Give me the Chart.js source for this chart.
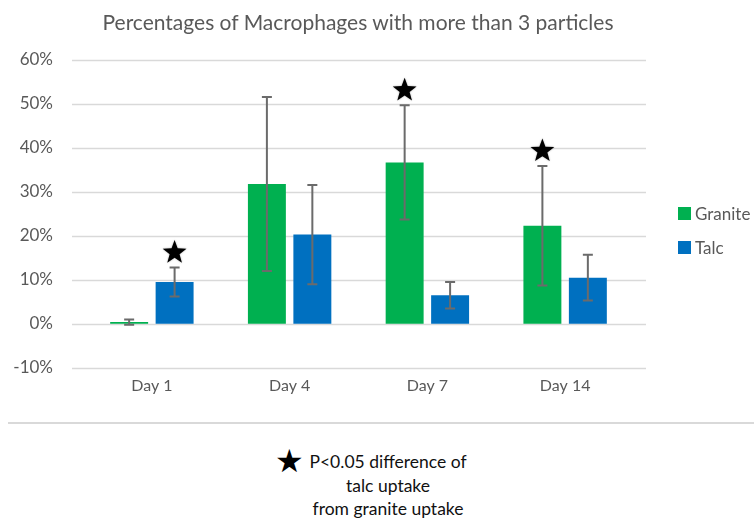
<!DOCTYPE html>
<html>
<head>
<meta charset="utf-8">
<script src="https://cdn.jsdelivr.net/npm/chart.js@4.4.1/dist/chart.umd.min.js"></script>
<style>
  html, body { margin: 0; padding: 0; background: #fff; }
  #wrap { position: relative; width: 754px; height: 518px; overflow: hidden; font-family: Lato, 'Open Sans', sans-serif; }
  #chartBox { position: absolute; left: 0; top: 0; width: 754px; height: 415px; }
  #title { position: absolute; left: 0; width: 716px; top: 9px; text-align: center; font-size: 21px; line-height: 26px; color: #595959; white-space: nowrap; }
  .legend-item { position: absolute; left: 678px; height: 20px; display: flex; align-items: center; font-size: 17px; color: #595959; }
  .legend-item span.sw { display: inline-block; width: 13px; height: 13px; margin-right: 4px; }
  #sep { position: absolute; left: 8px; right: 0; top: 422px; height: 2px; background: #d9d9d9; }
  #note { position: absolute; left: 283px; top: 450px; width: 210px; text-align: center; font-size: 17.5px; line-height: 23.5px; color: #111; }
  #noteStar { position: absolute; left: 275px; top: 444px; font-size: 32px; line-height: 32px; color: #000; }
</style>
</head>
<body>
<div id="wrap">
  <div id="chartBox"><canvas id="chart"></canvas></div>
  <div id="title">Percentages of Macrophages with more than 3 particles</div>
  <div class="legend-item" style="top:203px"><span class="sw" style="background:#00B050"></span>Granite</div>
  <div class="legend-item" style="top:237px"><span class="sw" style="background:#0070C0"></span>Talc</div>
  <div id="sep"></div>
  <div id="noteStar">★</div>
  <div id="note">P&lt;0.05 difference of<br>talc uptake<br>from granite uptake</div>
</div>
<script>
const days = ['Day 1', 'Day 4', 'Day 7', 'Day 14'];
const granite = [0.4, 31.8, 36.7, 22.3];
const graniteErr = [0.6, 19.8, 13.0, 13.6];
const talc = [9.5, 20.3, 6.5, 10.5];
const talcErr = [3.3, 11.3, 3.0, 5.2];
const graniteStar = [false, false, true, true];
const talcStar = [true, false, false, false];

const GREEN = '#00B050';
const BLUE = '#0070C0';
const GREY = '#595959';

// error bars + significance stars, drawn from the scales
const errorBarPlugin = {
  id: 'errorBars',
  afterDatasetsDraw(chart) {
    const { ctx } = chart;
    const y = chart.scales.y;
    chart.data.datasets.forEach((ds, di) => {
      const meta = chart.getDatasetMeta(di);
      meta.data.forEach((bar, i) => {
        const v = ds.data[i];
        const e = ds.errors[i];
        const yTop = y.getPixelForValue(v + e);
        const yBot = y.getPixelForValue(v - e);
        ctx.save();
        ctx.strokeStyle = '#6b6b6b';
        ctx.lineWidth = 2;
        ctx.beginPath();
        ctx.moveTo(bar.x, yTop);
        ctx.lineTo(bar.x, yBot);
        ctx.moveTo(bar.x - 5, yTop);
        ctx.lineTo(bar.x + 5, yTop);
        ctx.moveTo(bar.x - 5, yBot);
        ctx.lineTo(bar.x + 5, yBot);
        ctx.stroke();
        if (ds.stars[i]) drawStar(ctx, bar.x, yTop - 15, 12.5, 5.2);
        ctx.restore();
      });
    });
  },
};

function drawStar(ctx, cx, cy, outer, inner) {
  ctx.save();
  ctx.fillStyle = '#000';
  ctx.shadowColor = 'rgba(0,0,0,0.35)';
  ctx.shadowBlur = 2;
  ctx.beginPath();
  for (let k = 0; k < 10; k++) {
    const r = k % 2 === 0 ? outer : inner;
    const a = -Math.PI / 2 + (k * Math.PI) / 5;
    const px = cx + r * Math.cos(a);
    const py = cy + r * Math.sin(a);
    if (k === 0) ctx.moveTo(px, py);
    else ctx.lineTo(px, py);
  }
  ctx.closePath();
  ctx.fill();
  ctx.restore();
}

// horizontal gridlines, a bit wider than the plot area like the original
const gridPlugin = {
  id: 'wideGrid',
  beforeDatasetsDraw(chart) {
    const { ctx, chartArea } = chart;
    const y = chart.scales.y;
    ctx.save();
    ctx.strokeStyle = '#d9d9d9';
    ctx.lineWidth = 1.5;
    y.ticks.forEach((t) => {
      const py = Math.round(y.getPixelForValue(t.value)) + 0.5;
      ctx.beginPath();
      ctx.moveTo(chartArea.left - 11, py);
      ctx.lineTo(chartArea.right + 12, py);
      ctx.stroke();
    });
    ctx.restore();
  },
};

new Chart(document.getElementById('chart'), {
  type: 'bar',
  data: {
    labels: days,
    datasets: [
      { label: 'Granite', data: granite, errors: graniteErr, stars: graniteStar, backgroundColor: GREEN },
      { label: 'Talc', data: talc, errors: talcErr, stars: talcStar, backgroundColor: BLUE },
    ],
  },
  options: {
    responsive: true,
    maintainAspectRatio: false,
    animation: false,
    categoryPercentage: 0.66,
    barPercentage: 0.835,
    layout: { padding: { left: 0, right: 120, top: 60, bottom: 12 } },
    plugins: {
      legend: { display: false },
      tooltip: { enabled: false },
      title: { display: false },
    },
    scales: {
      x: {
        grid: { display: false, drawTicks: false },
        border: { display: false },
        ticks: { color: GREY, font: { family: 'Lato', size: 16 }, padding: 8 },
      },
      y: {
        min: -10,
        max: 60,
        afterFit: (s) => { s.width = 83; },
        grid: { display: false, drawTicks: false },
        border: { display: false },
        ticks: {
          stepSize: 10,
          color: GREY,
          padding: 30,
          font: { family: 'Lato', size: 17 },
          callback: (v) => v + '%',
        },
      },
    },
  },
  plugins: [gridPlugin, errorBarPlugin],
});
</script>
</body>
</html>
